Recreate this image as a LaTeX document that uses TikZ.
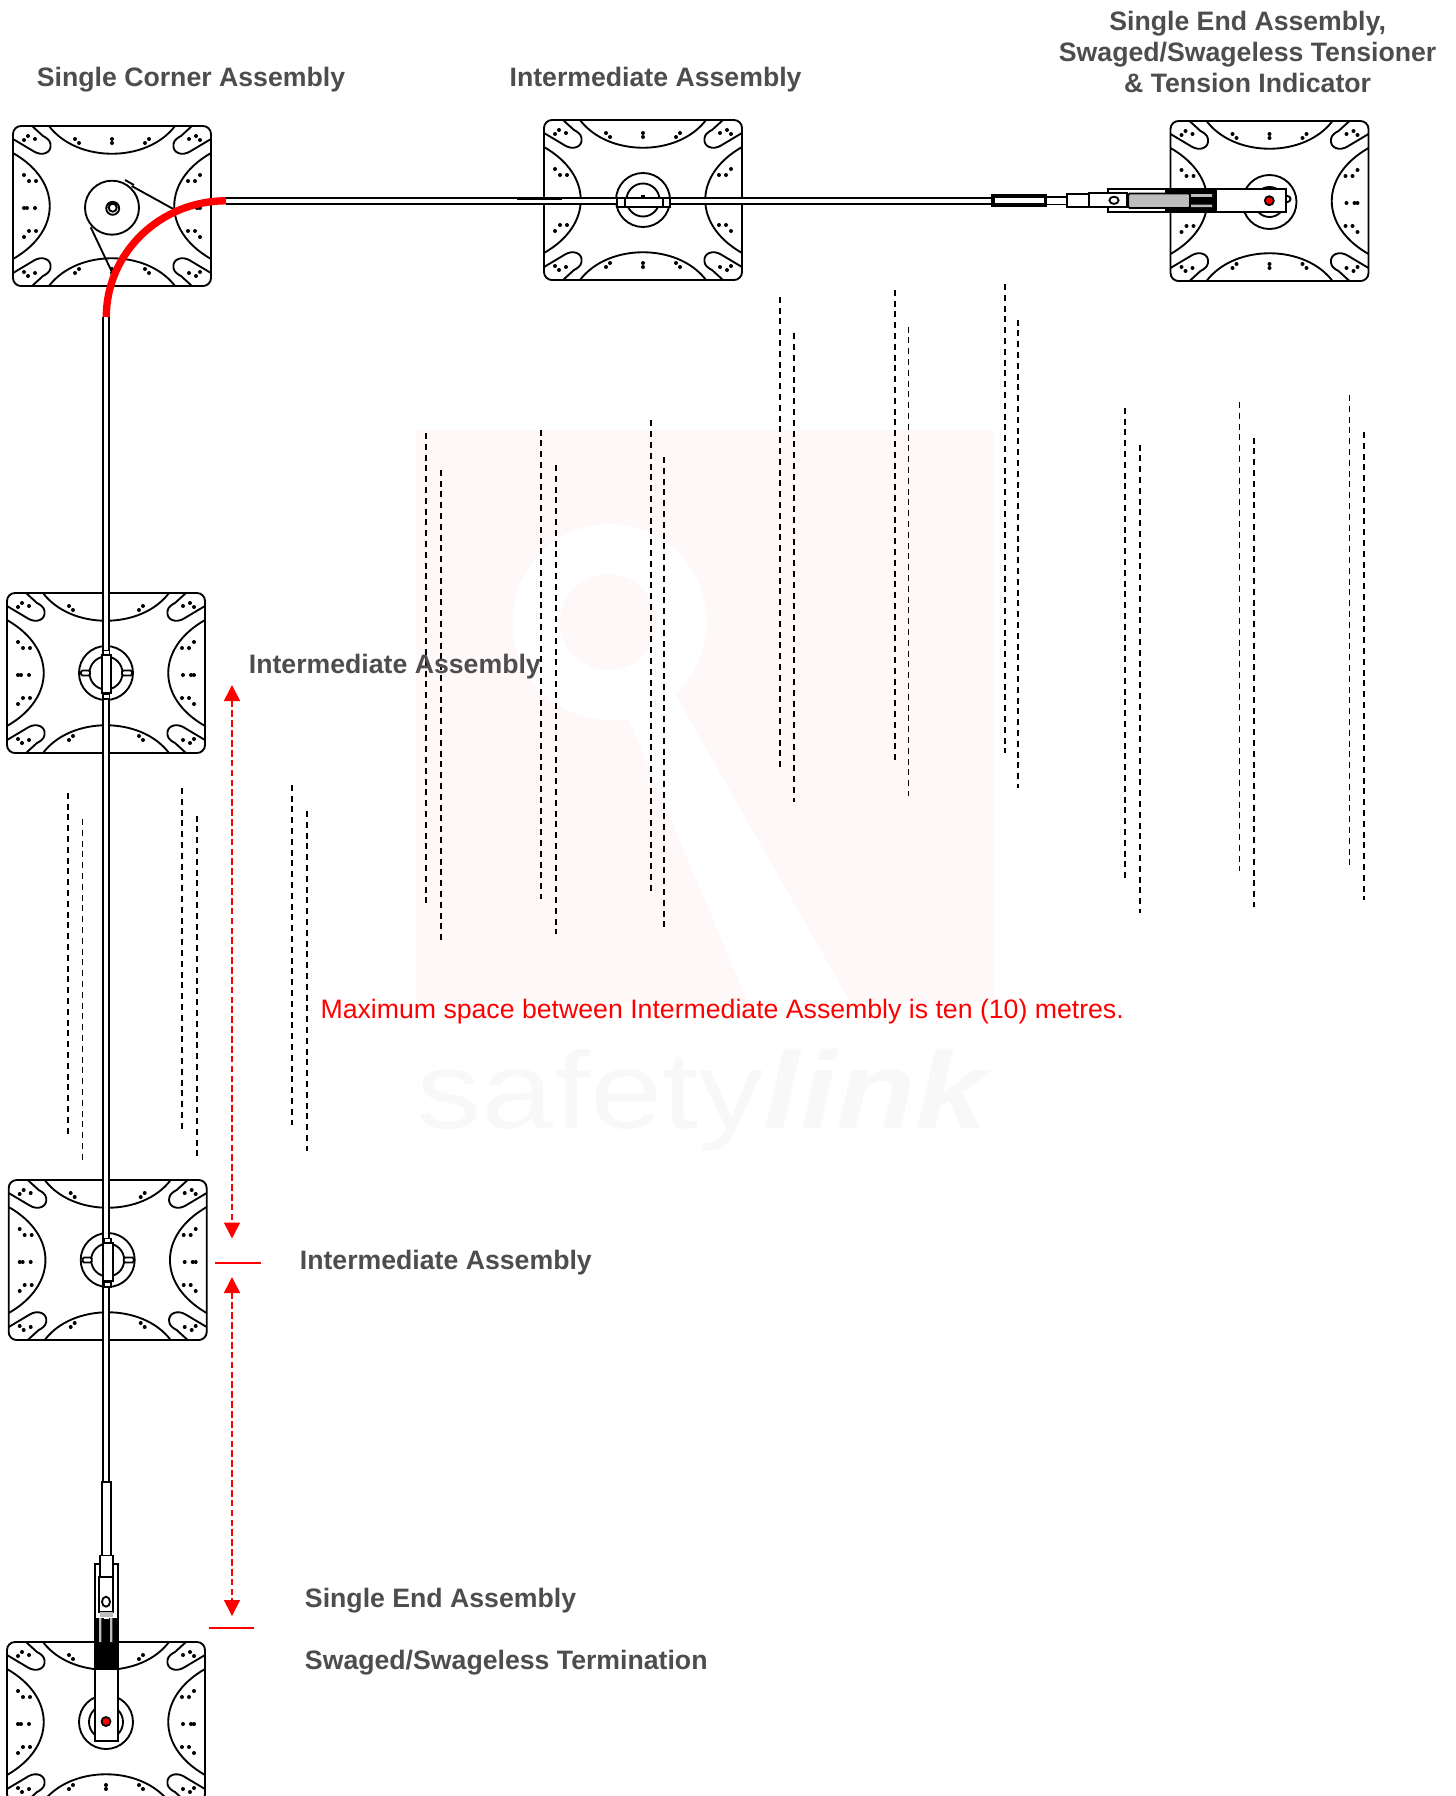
\documentclass[tikz,border=0pt]{standalone}
\usepackage{fontspec}
\setmainfont{Liberation Sans}
\usetikzlibrary{arrows.meta}
\definecolor{labelgray}{HTML}{4D4D4D}
\definecolor{markpink}{HTML}{FFF8F8}
\definecolor{markgray}{HTML}{F8F8F8}
\definecolor{blockgray}{HTML}{BDBDBD}
\tikzset{
    plateline/.style = {line width=1.4pt},
    wire/.style = {line width=1.35pt, double=white, double distance=3.2pt},
    partbox/.style = {draw, fill=white, line width=1.35pt},
    guide/.style = {line width=1.4pt, dash pattern=on 4.5pt off 3.6pt},
    span/.style = {red, line width=1.2pt, dash pattern=on 5pt off 2.4pt, {Triangle[length=12pt,width=12pt]}-{Triangle[length=12pt,width=12pt]}},
    tickline/.style = {red, line width=1.3pt},
    heading/.style = {font=\bfseries\fontsize{20}{23.25}\selectfont, text=labelgray, inner sep=0pt, align=center}
}
\newcommand{\mountplate}{
    \draw[plateline, rounded corners=6pt] (-99,-80) rectangle (99,80);
    \foreach \sx in {1,-1} {
        \begin{scope}[xscale=\sx]
            \draw[plateline] (-99,-53) .. controls (-50,-25) and (-50,25) .. (-99,53);
            \foreach \sy in {1,-1} {
                \begin{scope}[yscale=\sy]
                    \draw[plateline] (-99,-67) -- (-78,-54.5) .. controls (-70,-49.5) and (-60,-53) .. (-61.5,-62) .. controls (-62,-66) and (-66,-68.5) .. (-69,-70) -- (-80,-80);
                    \fill (-88,-66) circle (2) (-84,-70) circle (2) (-77,-67) circle (2);
                    \fill (-88,-31) circle (2) (-83,-25) circle (2) (-76,-25) circle (2);
                    \fill (-37,-67) circle (2) (-33,-63) circle (2);
                \end{scope}
            }
            \fill (-88,2) circle (2) (-85,2) circle (2) (-77,2) circle (2);
        \end{scope}
    }
    \foreach \sy in {1,-1} {
        \begin{scope}[yscale=\sy]
            \draw[plateline] (-63,-80) .. controls (-35,-43) and (35,-43) .. (63,-80);
            \fill (0,-67) circle (2) (0,-63) circle (2);
        \end{scope}
    }
}
% fitting on a vertical run
\newcommand{\midfit}{
    \draw[plateline] (0,0) circle (27) (0,0) circle (16.5);
    \draw[partbox, rounded corners=1pt] (-25,-2.5) rectangle (-16,2.5);
    \draw[partbox, rounded corners=1pt] (16,-2.5) rectangle (26,2.5);
}
\newcommand{\midbar}{
    \draw[partbox] (-3.5,-22.5) rectangle (3,-18);
    \draw[partbox] (-3.5,21) rectangle (3,26);
    \draw[partbox] (-4.7,-18) rectangle (4.7,20);
}
\begin{document}
\begin{tikzpicture}[x=.75pt, y=-.75pt]
    \useasboundingbox (0,0) rectangle (1456,1796);
    \clip (0,0) rectangle (1456,1796);

    % watermark
    \fill[markpink] (416,430) rectangle (994,1002);
    \fill[white] (609.6,622) ellipse [x radius=97, y radius=98];
    \fill[white] (600,720) -- (629,720) -- (748,1002) -- (850,1002) -- (675,694) -- cycle;
    \fill[markpink] (608.5,622) ellipse [x radius=48.5, y radius=48];
    \node (marktext) at (702.5,1100) {\scalebox{1.19}[1]{\fontsize{82}{90}\selectfont\color{markgray}safety\bfseries\itshape link}};

    % wall guides
    \foreach \gx/\gt/\gb in {67.6/792.7/1134, 82.5/819/1160.4, 182/788/1130.7, 197/815.6/1157, 292/784.7/1125, 307/811/1151,
        426.2/433/905, 441/469.7/941.7, 540.7/429.6/899.3, 555.6/465/933.7, 650.7/420.4/891.3, 664.4/457/928,
        780/296.7/767.5, 794/333.4/802, 894.7/289.8/760.7, 908.5/326.5/796, 1004.7/284/752.6, 1018.4/319.6/788,
        1125/407.8/878.7, 1139.9/444.5/913, 1239.5/402/870.7, 1254.4/437.6/907.3, 1349.5/395/865, 1364.4/432/900.4} {
        \draw[guide] (\gx,\gt) -- (\gx,\gb);
    }

    % plates
    \begin{scope}[shift={(112,206)}]
        \mountplate
    \end{scope}
    \begin{scope}[shift={(643,200)}]
        \mountplate
        \draw[plateline] (0,0) circle (27) (0,0) circle (16.5);
        \draw[plateline] (-2,-4) -- (2,-4);
    \end{scope}
    \begin{scope}[shift={(1269.5,201)}]
        \mountplate
        \draw[plateline] (0,1) circle (27) (0,1) circle (15);
        \draw[plateline] (18,-2) circle (3);
    \end{scope}
    \begin{scope}[shift={(106,673)}]
        \mountplate
        \midfit
    \end{scope}
    \begin{scope}[shift={(107.7,1260)}]
        \mountplate
        \midfit
    \end{scope}
    \begin{scope}[shift={(106,1722)}]
        \mountplate
        \draw[plateline] (0,0) circle (27) (0,0) circle (17);
    \end{scope}

    % corner pulley
    \draw[plateline] (112,207.7) circle (27);
    \draw[plateline] (112.7,208.3) circle (6.5) (112.7,207.7) circle (4);
    \draw[plateline] (131.7,186) -- (173.3,209);
    \draw[plateline] (125,180) -- (134,185);
    \draw[plateline] (90.7,227.3) -- (112.3,272.7);

    % wire runs
    \coordinate (cornerE) at (226,200.8);
    \coordinate (cornerS) at (106.3,317);
    \coordinate (sleeveE) at (993,200.8);
    \coordinate (sleeveS) at (106.3,1482);
    \draw[wire] (cornerE) -- (sleeveE);
    \draw[wire] (cornerS) -- (sleeveS);
    \draw[line width=1.6pt] (516.7,199) -- (561.7,199);

    % intermediate fittings
    \draw[partbox] (616.7,198.5) rectangle (625,207);
    \draw[partbox] (663.3,198.5) rectangle (670,207);
    \draw[partbox] (625,198.3) rectangle (663.3,207.3);
    \begin{scope}[shift={(106.5,673)}]
        \midbar
    \end{scope}
    \begin{scope}[shift={(108,1261)}]
        \midbar
    \end{scope}

    % end assembly, horizontal
    \draw[partbox, line width=2.6pt] (993,196) rectangle (1045.7,205);
    \draw[partbox] (1045.7,196.7) rectangle (1067,204.5);
    \draw[partbox] (1067,194.3) rectangle (1089.3,206.7);
    \draw[partbox] (1108,189.3) rectangle (1285.7,212.3);
    \fill (1165,189.3) rectangle (1217.3,193.5);
    \fill (1165,208) rectangle (1217.3,212.3);
    \fill (1190,193) rectangle (1217.3,208.5);
    \fill[blockgray] (1190,194.2) rectangle (1212,196.8) (1190,204.5) rectangle (1212,207);
    \draw[partbox] (1089.3,193.3) rectangle (1126.7,207.3);
    \draw[partbox] (1114,200.3) ellipse [x radius=4.6, y radius=3.6];
    \draw[partbox, fill=blockgray, rounded corners=1pt] (1128.3,193.5) rectangle (1190,208);
    \draw[partbox, fill=red] (1269.3,200.7) circle (4.5);

    % end assembly, vertical
    \draw[partbox] (101.7,1482) rectangle (110.7,1556);
    \draw[partbox] (95,1564) rectangle (117.7,1740.7);
    \draw[partbox] (100,1555.5) rectangle (113,1577);
    \draw[partbox] (99,1577) rectangle (113.3,1612);
    \draw[partbox] (106,1601.7) ellipse [x radius=4, y radius=5];
    \fill[blockgray] (100,1612) rectangle (112.5,1617);
    \fill (95,1618) rectangle (117.7,1670);
    \fill[blockgray] (99,1618) rectangle (101.3,1642) (110,1618) rectangle (112.3,1642);
    \fill[white] (103.5,1616.5) rectangle (108.5,1619);
    \draw[partbox, fill=red] (106,1721.5) circle (4.5);

    % red bend over the corner plate
    \draw[red, line width=5.5pt] (cornerE) .. controls (160,200.8) and (106.3,253) .. (cornerS);

    % span markers
    \coordinate (spanA) at (232,685);
    \coordinate (spanB) at (232,1238.5);
    \coordinate (spanC) at (232,1277);
    \coordinate (spanD) at (232,1616);
    \draw[span] (spanA) -- (spanB);
    \draw[span] (spanC) -- (spanD);
    \coordinate (tickAl) at (215,1263);
    \coordinate (tickAr) at (260.7,1263);
    \coordinate (tickBl) at (209.3,1628);
    \coordinate (tickBr) at (254,1628);
    \draw[tickline] (tickAl) -- (tickAr);
    \draw[tickline] (tickBl) -- (tickBr);

    % labels
    \node[heading] (cornerlabel) at (191,79.5) {Single Corner Assembly};
    \node[heading] (midlabelA) at (655.6,79.5) {Intermediate Assembly};
    \node[heading] (endlabelA) at (1247.6,51.5) {Single End Assembly,\\Swaged/Swageless Tensioner\\\& Tension Indicator};
    \node[heading, anchor=west] (midlabelB) at (248.6,667) {Intermediate Assembly};
    \node[heading, anchor=west] (midlabelC) at (299.6,1263) {Intermediate Assembly};
    \node[heading, anchor=west] (endlabelB) at (304.7,1600.5) {Single End Assembly};
    \node[heading, anchor=west] (endlabelC) at (304.7,1662.5) {Swaged/Swageless Termination};
    \node[anchor=west, inner sep=0pt, text=red, font=\fontsize{20}{24}\selectfont] (spacelabel) at (320.3,1011.5) {Maximum space between Intermediate Assembly is ten (10) metres.};
\end{tikzpicture}
\end{document}
